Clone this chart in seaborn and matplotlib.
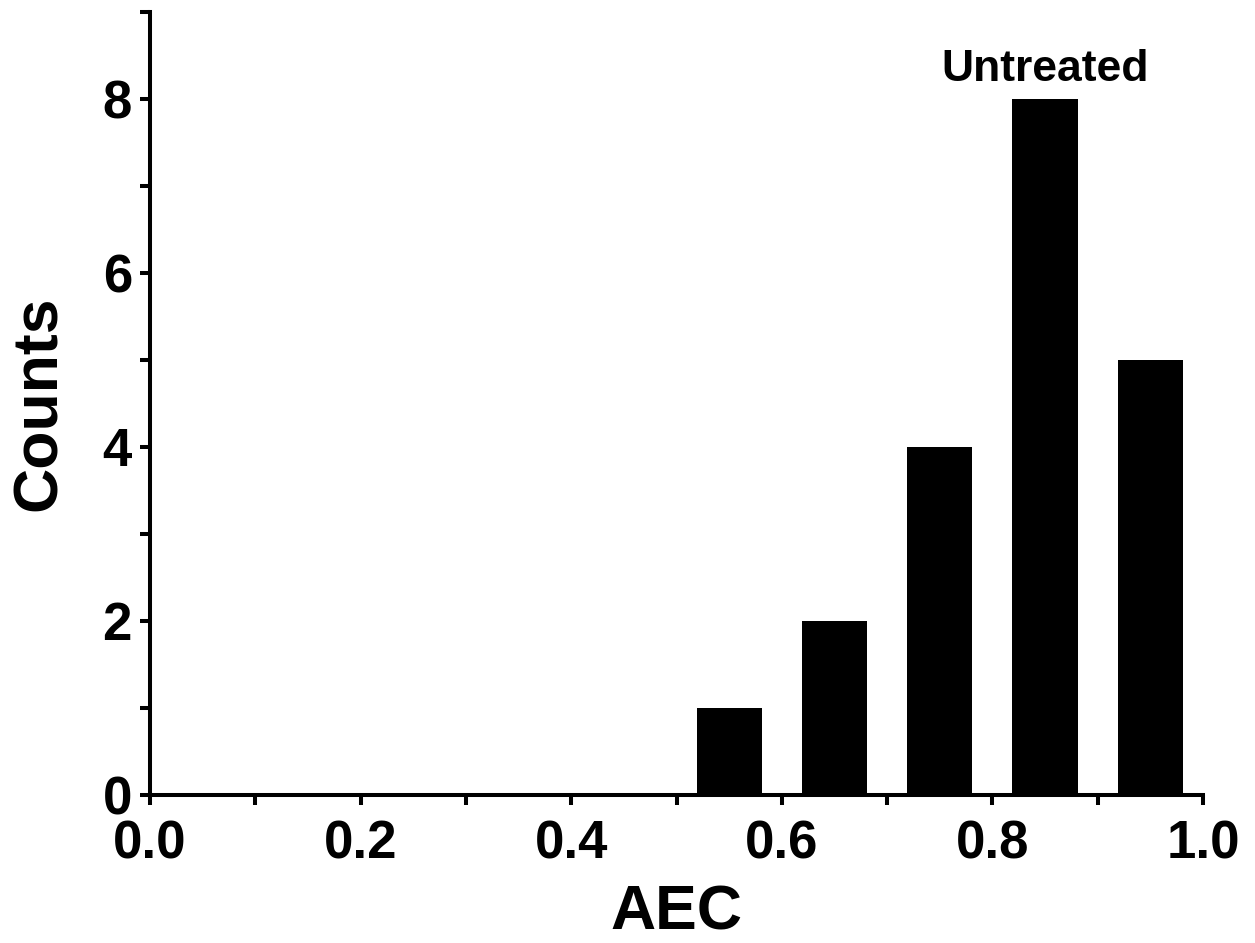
import matplotlib
matplotlib.use("Agg")
import matplotlib.pyplot as plt
import seaborn as sns
import numpy as np
from matplotlib.ticker import MultipleLocator

# Data
aec_centers = [0.55, 0.65, 0.75, 0.85, 0.95]
counts = [1, 2, 4, 8, 5]
annotation = "Untreated"

sns.set_theme(style="ticks")
plt.rcParams['font.family'] = ['Liberation Sans', 'DejaVu Sans']
plt.rcParams['font.weight'] = 'bold'
plt.rcParams['text.color'] = 'black'
plt.rcParams['axes.labelcolor'] = 'black'
plt.rcParams['xtick.color'] = 'black'
plt.rcParams['ytick.color'] = 'black'
plt.rcParams['xtick.labelcolor'] = 'black'
plt.rcParams['ytick.labelcolor'] = 'black'

fig = plt.figure(figsize=(12.55, 9.43), dpi=100)
ax = fig.add_axes([0.1195, 0.157, 0.8391, 0.8305])

sns.barplot(x=aec_centers, y=counts, native_scale=True, width=0.62,
            color="black", saturation=1, linewidth=0, ax=ax)

ax.set_xlim(0, 1.0)
ax.set_ylim(0, 9)
ax.xaxis.set_major_locator(MultipleLocator(0.2))
ax.xaxis.set_minor_locator(MultipleLocator(0.1))
ax.yaxis.set_major_locator(MultipleLocator(2))
ax.yaxis.set_minor_locator(MultipleLocator(1))
ax.set_xticks(np.arange(0, 1.01, 0.2))
ax.set_xticklabels([f"{v:.1f}" for v in np.arange(0, 1.01, 0.2)])

for s in ["top", "right"]:
    ax.spines[s].set_visible(False)
for s in ["left", "bottom"]:
    ax.spines[s].set_linewidth(2.9)
    ax.spines[s].set_color("black")

ax.tick_params(axis="both", which="both", direction="out", length=7, width=2.9,
               color="black")
ax.tick_params(axis="x", which="major", labelsize=38, pad=11)
ax.tick_params(axis="y", which="major", labelsize=38, pad=6)
for lab in ax.get_xticklabels() + ax.get_yticklabels():
    lab.set_fontweight("bold")
    lab.set_color("black")

ax.set_xlabel("AEC", fontsize=45, fontweight="bold", labelpad=10, color="black")
ax.set_ylabel("Counts", fontsize=45, fontweight="bold", labelpad=24, color="black")

ax.text(0.85, 8.1, annotation, ha="center", va="bottom", fontsize=32,
        fontweight="bold", color="black")

fig.savefig("out.png", dpi=100, facecolor="white")
